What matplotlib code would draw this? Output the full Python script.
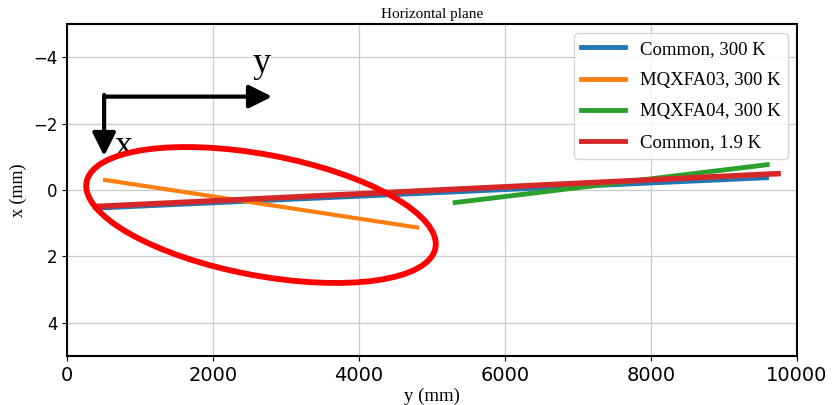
import matplotlib
matplotlib.use('Agg')
import matplotlib.pyplot as plt
from matplotlib.patches import Ellipse

# end points of each fitted line: y position (mm) and x offset (mm)
common300_y = [450, 9590]
common300_x = [0.56, -0.35]
mqxfa03_y = [520, 4795]
mqxfa03_x = [-0.30, 1.13]
mqxfa04_y = [5315, 9590]
mqxfa04_x = [0.38, -0.76]
common19_y = [384, 9740]
common19_x = [0.50, -0.49]

labels = ['Common, 300 K', 'MQXFA03, 300 K', 'MQXFA04, 300 K', 'Common, 1.9 K']
xticks = [0, 2000, 4000, 6000, 8000, 10000]
yticks = [-4, -2, 0, 2, 4]

serif = 'Liberation Serif'

fig = plt.figure(figsize=(8.39, 4.05), dpi=100)
ax = fig.add_axes([0.080, 0.121, 0.870, 0.820])

ax.plot(common300_y, common300_x, color='tab:blue', lw=2.6, label=labels[0])
ax.plot(mqxfa03_y, mqxfa03_x, color='tab:orange', lw=3, label=labels[1])
ax.plot(mqxfa04_y, mqxfa04_x, color='tab:green', lw=3.5, label=labels[2])
ax.plot(common19_y, common19_x, color='tab:red', lw=4, label=labels[3])

ax.set_xlim(0, 10000)
ax.set_ylim(5, -5)
ax.set_xticks(xticks)
ax.set_yticks(yticks)
ax.tick_params(axis='x', labelsize=14)
ax.tick_params(axis='y', labelsize=12)
ax.grid(True, color='#cccccc', lw=0.9)
ax.set_axisbelow(True)
for s in ax.spines.values():
    s.set_linewidth(1.5)
    s.set_color('black')

ax.set_title('Horizontal plane', family=serif, fontsize=11, pad=4)
ax.set_xlabel('y (mm)', family=serif, fontsize=13.5, labelpad=2)
ax.set_ylabel('x (mm)', family=serif, fontsize=13, labelpad=4)

leg = ax.legend(loc='upper right', prop={'family': serif, 'size': 13.5},
                handlelength=2.3, borderaxespad=0.5, labelspacing=0.75)
for h in leg.get_lines():
    h.set_linewidth(3.5)

# coordinate system arrows
corner = (507, -2.81)
aprops = dict(arrowstyle='-|>,head_length=1.0,head_width=0.5', lw=3,
              color='black', mutation_scale=14, shrinkA=0, shrinkB=0)
ax.annotate('', xy=(2808, -2.81), xytext=corner, arrowprops=aprops)
ax.annotate('', xy=(507, -1.02), xytext=(507, -2.86), arrowprops=aprops)
ax.text(2670, -3.55, 'y', family=serif, fontsize=26, ha='center', va='baseline')
ax.text(780, -1.05, 'x', family=serif, fontsize=26, ha='center', va='baseline')

# red ellipse around MQXFA03
ell = Ellipse((2.61, 1.90), 3.55, 1.21, angle=-10.7, fill=False,
              edgecolor='#ff0000', lw=4.2, transform=fig.dpi_scale_trans,
              zorder=5, clip_on=False)
fig.add_artist(ell)

fig.savefig('out.png', dpi=100)
